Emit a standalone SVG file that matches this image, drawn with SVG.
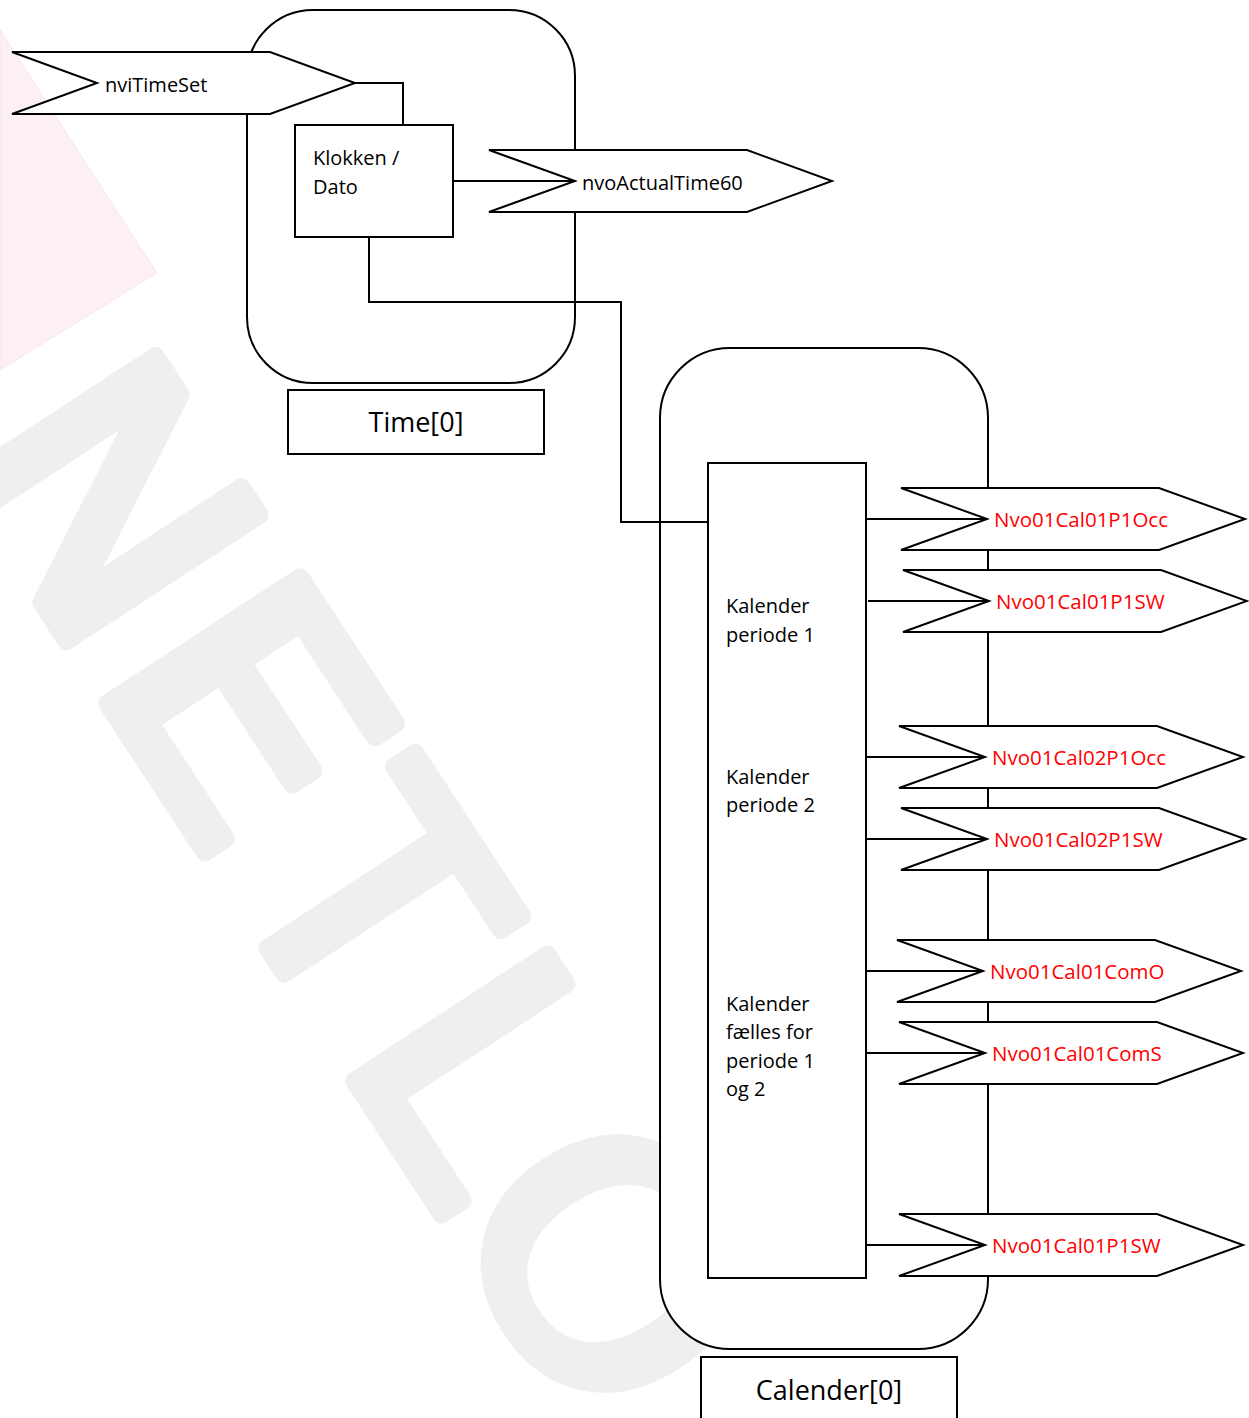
<svg xmlns="http://www.w3.org/2000/svg" width="1249" height="1418" viewBox="0 0 1249 1418">
  <style>
    .wm { font-family: "DejaVu Sans", sans-serif; font-size: 318px; fill: #efefef; stroke: #efefef; stroke-width: 17; stroke-linejoin: round; text-anchor: middle; }
    .box { fill: #ffffff; stroke: #000000; stroke-width: 2; }
    .flag { fill: #ffffff; stroke: #000000; stroke-width: 2; stroke-linejoin: miter; }
    .wire { fill: none; stroke: #000000; stroke-width: 2; }
    .t { font-family: "Open Sans", "Noto Sans", sans-serif; font-size: 20px; fill: #000000; }
    .r { font-family: "Open Sans", "Noto Sans", sans-serif; font-size: 20.5px; fill: #ff0000; }
    .big { font-family: "Open Sans", "Noto Sans", sans-serif; font-size: 27px; fill: #000000; text-anchor: middle; }
  </style>

  <g id="background">
    <rect x="0" y="0" width="1249" height="1418" fill="#ffffff"/>
    <polygon points="0,30 157,273 0,370" fill="#fcf0f2" stroke="#f6dde1" stroke-width="0.6"/>
    <g id="watermark">
      <text class="wm" transform="rotate(56.8) translate(478,296) scale(1.08,1)">N</text>
      <text class="wm" transform="rotate(56.8) translate(730,296) scale(1.18,1)">E</text>
      <text class="wm" transform="rotate(56.8) translate(955,296)">T</text>
      <text class="wm" transform="rotate(56.8) translate(1162,296) scale(1.1,1)">L</text>
      <text class="wm" transform="rotate(56.8) translate(1392,296) scale(1.08,1)">O</text>
    </g>
  </g>

  <g id="time-container">
    <rect class="box" x="247" y="10" width="328" height="373" rx="66" ry="66"/>
  </g>
  <g id="time-label">
    <rect class="box" x="288" y="390" width="256" height="64"/>
    <text class="big" x="416" y="432">Time[0]</text>
  </g>

  <g id="calendar-container">
    <rect class="box" x="660" y="348" width="328" height="1001" rx="70" ry="70"/>
  </g>
  <g id="calendar-label">
    <rect class="box" x="701" y="1357" width="256" height="70"/>
    <text class="big" x="829" y="1400">Calender[0]</text>
  </g>

  <g id="connectors">
    <polyline class="wire" points="355,83 403,83 403,125"/>
    <line class="wire" x1="453" y1="181" x2="575" y2="181"/>
    <polyline class="wire" points="369,237 369,302 621,302 621,522 708,522"/>
    <line class="wire" x1="866" y1="519" x2="987" y2="519"/>
    <line class="wire" x1="868" y1="601" x2="989" y2="601"/>
    <line class="wire" x1="864" y1="757" x2="985" y2="757"/>
    <line class="wire" x1="866" y1="839" x2="987" y2="839"/>
    <line class="wire" x1="862" y1="971" x2="983" y2="971"/>
    <line class="wire" x1="864" y1="1053" x2="985" y2="1053"/>
    <line class="wire" x1="864" y1="1245" x2="985" y2="1245"/>
  </g>

  <g id="nviTimeSet">
    <polygon class="flag" points="12,52 270,52 355,83 270,114 12,114 97,83"/>
    <text class="t" x="105" y="92">nviTimeSet</text>
  </g>

  <g id="klokken-dato">
    <rect class="box" x="295" y="125" width="158" height="112"/>
    <text class="t" x="313" y="165">Klokken /</text>
    <text class="t" x="313" y="194">Dato</text>
  </g>

  <g id="nvoActualTime60">
    <polygon class="flag" points="489,150 747,150 832,181 747,212 489,212 575,181"/>
    <text class="t" x="582" y="190">nvoActualTime60</text>
  </g>

  <g id="kalender">
    <rect class="box" x="708" y="463" width="158" height="815"/>
    <text class="t" x="726" y="613">Kalender</text>
    <text class="t" x="726" y="642">periode 1</text>
    <text class="t" x="726" y="784">Kalender</text>
    <text class="t" x="726" y="812">periode 2</text>
    <text class="t" x="726" y="1011">Kalender</text>
    <text class="t" x="726" y="1039">fælles for</text>
    <text class="t" x="726" y="1068">periode 1</text>
    <text class="t" x="726" y="1096">og 2</text>
  </g>

  <g id="Nvo01Cal01P1Occ">
    <polygon class="flag" points="901,488 1159,488 1245,519 1159,550 901,550 987,519"/>
    <text class="r" x="994" y="527">Nvo01Cal01P1Occ</text>
  </g>
  <g id="Nvo01Cal01P1SW-a">
    <polygon class="flag" points="903,570 1161,570 1247,601 1161,632 903,632 989,601"/>
    <text class="r" x="996" y="609">Nvo01Cal01P1SW</text>
  </g>
  <g id="Nvo01Cal02P1Occ">
    <polygon class="flag" points="899,726 1157,726 1243,757 1157,788 899,788 985,757"/>
    <text class="r" x="992" y="765">Nvo01Cal02P1Occ</text>
  </g>
  <g id="Nvo01Cal02P1SW">
    <polygon class="flag" points="901,808 1159,808 1245,839 1159,870 901,870 987,839"/>
    <text class="r" x="994" y="847">Nvo01Cal02P1SW</text>
  </g>
  <g id="Nvo01Cal01ComO">
    <polygon class="flag" points="897,940 1155,940 1241,971 1155,1002 897,1002 983,971"/>
    <text class="r" x="990" y="979">Nvo01Cal01ComO</text>
  </g>
  <g id="Nvo01Cal01ComS">
    <polygon class="flag" points="899,1022 1157,1022 1243,1053 1157,1084 899,1084 985,1053"/>
    <text class="r" x="992" y="1061">Nvo01Cal01ComS</text>
  </g>
  <g id="Nvo01Cal01P1SW-b">
    <polygon class="flag" points="899,1214 1157,1214 1243,1245 1157,1276 899,1276 985,1245"/>
    <text class="r" x="992" y="1253">Nvo01Cal01P1SW</text>
  </g>
</svg>
